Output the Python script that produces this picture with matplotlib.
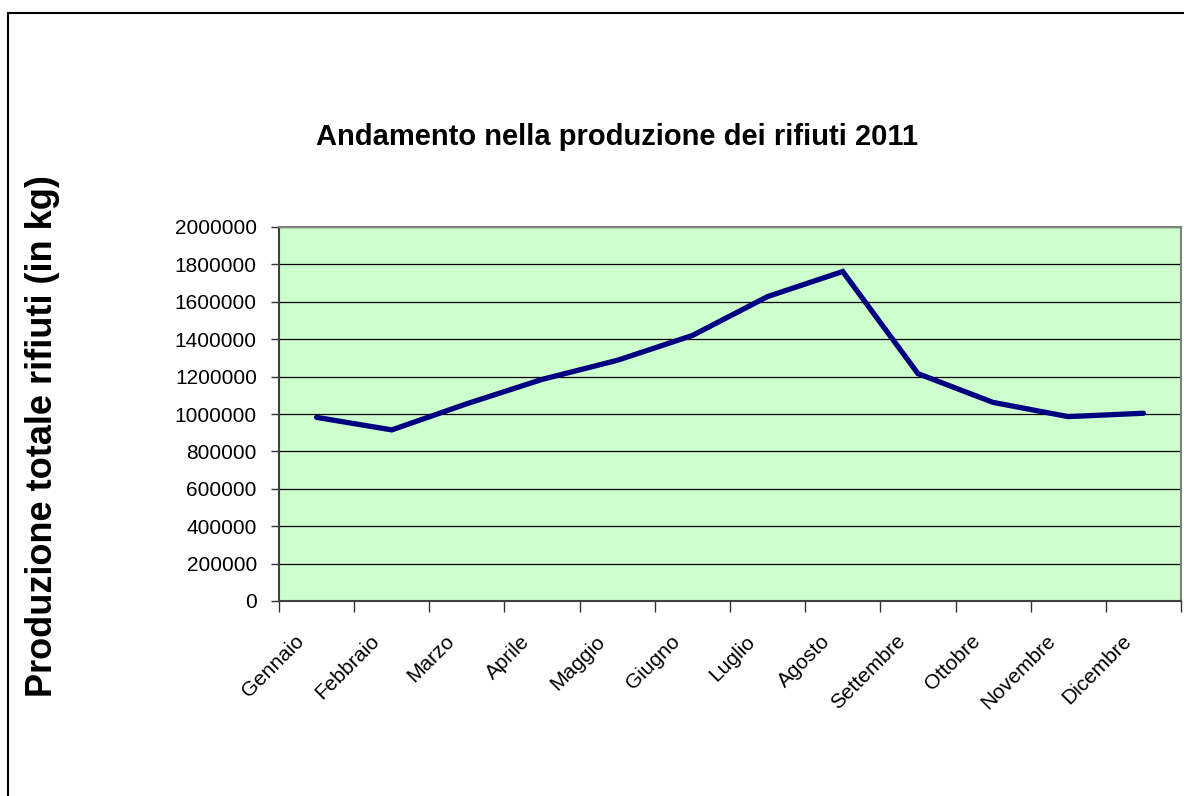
import matplotlib
matplotlib.use("Agg")
import matplotlib.pyplot as plt
from matplotlib.patches import Rectangle
from matplotlib.transforms import ScaledTranslation
import numpy as np

months = ["Gennaio", "Febbraio", "Marzo", "Aprile", "Maggio", "Giugno",
          "Luglio", "Agosto", "Settembre", "Ottobre", "Novembre", "Dicembre"]
values = [982000, 915000, 1055000, 1185000, 1287000, 1420000,
          1628000, 1762000, 1216000, 1062000, 986000, 1004000]
yticks = [0, 200000, 400000, 600000, 800000, 1000000, 1200000,
          1400000, 1600000, 1800000, 2000000]

plt.rcParams['font.family'] = ['Liberation Sans', 'DejaVu Sans']

W, H = 1184, 796
fig = plt.figure(figsize=(W / 100, H / 100), dpi=100)
fig.patch.set_facecolor('white')

# outer chart frame (top and left edges visible)
fig.add_artist(Rectangle((8 / W, -0.1), 1.2, 1 - 13 / H + 0.1,
                         transform=fig.transFigure, fill=False,
                         edgecolor='black', linewidth=1.5))

left, right, top, bottom = 279, 1181, 227, 601
ax = fig.add_axes([left / W, 1 - bottom / H, (right - left) / W, (bottom - top) / H])
ax.set_facecolor('#CCFFCC')

x = np.arange(len(months))
ax.plot(x, values, color='#000080', linewidth=3.8, solid_capstyle='round',
        solid_joinstyle='miter', zorder=3)

ax.set_xlim(-0.5, len(months) - 0.5)
ax.set_ylim(0, 2000000)
ax.set_yticks(yticks)
ax.set_yticklabels([str(v) for v in yticks], fontsize=15)
ax.yaxis.grid(True, color='black', linewidth=0.9)
ax.set_axisbelow(True)

ax.set_xticks(np.arange(-0.5, len(months), 1.0))
ax.set_xticklabels([])
ax.set_xticks(x, minor=True)
ax.set_xticklabels(months, minor=True, rotation=45, ha='right',
                   rotation_mode='anchor', fontsize=15)
ax.tick_params(axis='x', which='minor', length=0, pad=22)
ax.tick_params(axis='x', which='major', length=8, width=1, color='#333333', direction='out')
ax.tick_params(axis='y', length=6, width=1, color='#333333', pad=10)

offset = ScaledTranslation(-22 / 100, 0, fig.dpi_scale_trans)
for lbl in ax.xaxis.get_minorticklabels():
    lbl.set_transform(lbl.get_transform() + offset)

for s in ['top', 'right']:
    ax.spines[s].set_color('#808080')
    ax.spines[s].set_linewidth(1.5)
for s in ['left', 'bottom']:
    ax.spines[s].set_color('#404040')
    ax.spines[s].set_linewidth(1.5)

fig.text(617 / W, 1 - 137 / H, "Andamento nella produzione dei rifiuti 2011",
         ha='center', va='center', fontsize=21, fontweight='bold')
fig.text(43 / W, 1 - 436 / H, "Produzione totale rifiuti (in kg)",
         ha='center', va='center', rotation=90, fontsize=26, fontweight='bold')

fig.savefig("out.png", dpi=100)
